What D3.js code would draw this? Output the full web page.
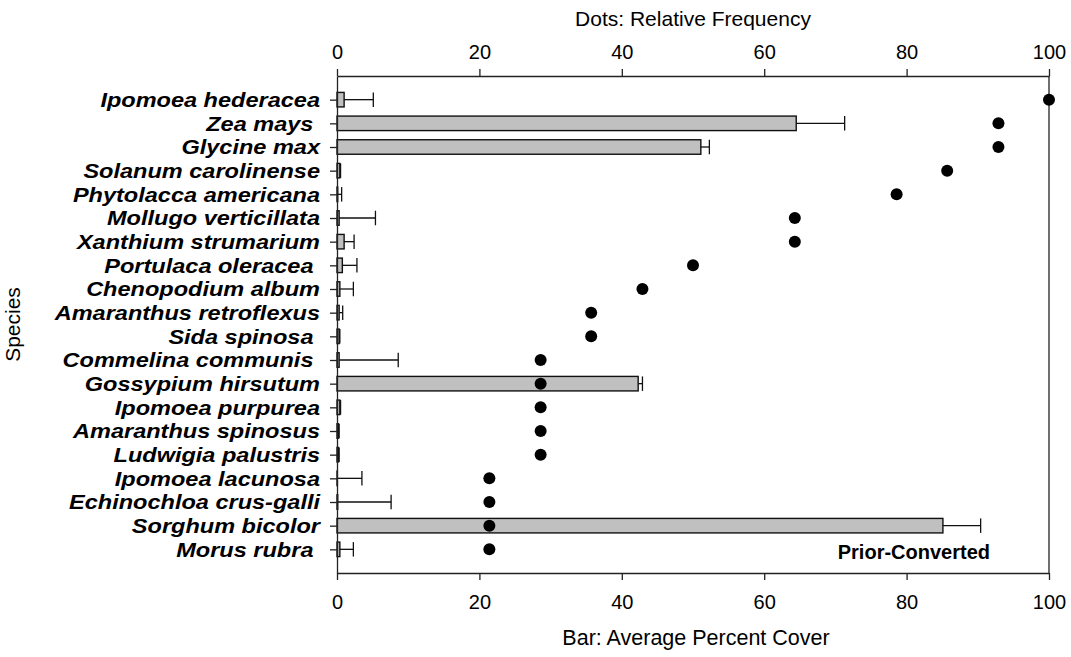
<!DOCTYPE html>
<html>
<head>
<meta charset="utf-8">
<script src="https://cdn.jsdelivr.net/npm/d3@7"></script>
<style>
  body { margin: 0; background: #fff; }
  svg { display: block; font-family: Arial, "Liberation Sans", Helvetica, sans-serif; }
  text { white-space: pre; }
</style>
</head>
<body>
<svg id="chart" width="1071" height="657"></svg>
<script>
const species = [
  "Ipomoea hederacea", "Zea mays ", "Glycine max", "Solanum carolinense",
  "Phytolacca americana", "Mollugo verticillata", "Xanthium strumarium",
  "Portulaca oleracea ", "Chenopodium album", "Amaranthus retroflexus",
  "Sida spinosa ", "Commelina communis ", "Gossypium hirsutum",
  "Ipomoea purpurea", "Amaranthus spinosus", "Ludwigia palustris",
  "Ipomoea lacunosa", "Echinochloa crus-galli", "Sorghum bicolor", "Morus rubra "
];
const coverMean = [1.0, 64.5, 51.1, 0.4, 0.1, 0.3, 1.0, 0.75, 0.4, 0.3,
                   0.3, 0.3, 42.3, 0.4, 0.2, 0.2, 0.05, 0.1, 85.1, 0.4];
const coverErr  = [5.1, 71.3, 52.3, 0.5, 0.65, 5.4, 2.4, 2.8, 2.3, 0.8,
                   0.4, 8.6, 42.9, 0.5, 0.3, 0.3, 3.5, 7.6, 90.4, 2.3];
const relFreq   = [100, 92.9, 92.9, 85.7, 78.6, 64.3, 64.3, 50, 42.9, 35.7,
                   35.7, 28.6, 28.6, 28.6, 28.6, 28.6, 21.4, 21.4, 21.4, 21.4];
const xTicks = [0, 20, 40, 60, 80, 100];

const svg = d3.select("#chart");
const L = 337, R = 1049, T = 76, B = 573;

const x = d3.scaleLinear().domain([0, 100]).range([L, R]);
const y = d3.scalePoint().domain(species).range([T, B]).padding(1);
const barH = 14.5;
const ink = "#222";

// frame line on the right
svg.append("line").attr("x1", R).attr("x2", R).attr("y1", T).attr("y2", B)
  .attr("stroke", ink).attr("stroke-width", 1.3);

// bars
svg.append("g").selectAll("rect").data(species).join("rect")
  .attr("x", x(0))
  .attr("y", d => y(d) - barH / 2)
  .attr("width", (d, i) => x(coverMean[i]) - x(0))
  .attr("height", barH)
  .attr("fill", "#c0c0c0")
  .attr("stroke", "#111")
  .attr("stroke-width", 1.4);

// error bars
const eg = svg.append("g").attr("stroke", "#111").attr("stroke-width", 1.3);
species.forEach((d, i) => {
  eg.append("line").attr("x1", x(coverMean[i])).attr("x2", x(coverErr[i]))
    .attr("y1", y(d)).attr("y2", y(d));
  eg.append("line").attr("x1", x(coverErr[i])).attr("x2", x(coverErr[i]))
    .attr("y1", y(d) - barH / 2).attr("y2", y(d) + barH / 2);
});

// dots
svg.append("g").selectAll("circle").data(species).join("circle")
  .attr("cx", (d, i) => x(relFreq[i]))
  .attr("cy", d => y(d))
  .attr("r", 6)
  .attr("fill", "#000");

// axes
const axB = svg.append("g").attr("transform", `translate(0,${B})`)
  .call(d3.axisBottom(x).tickValues(xTicks).tickSize(7).tickPadding(15).tickSizeOuter(0));
const axT = svg.append("g").attr("transform", `translate(0,${T})`)
  .call(d3.axisTop(x).tickValues(xTicks).tickSize(7).tickPadding(10).tickSizeOuter(0));
const axL = svg.append("g").attr("transform", `translate(${L},0)`)
  .call(d3.axisLeft(y).tickSize(7).tickPadding(10).tickSizeOuter(0));

[axB, axT, axL].forEach(g => {
  g.select(".domain").attr("stroke", ink).attr("stroke-width", 1.3);
  g.selectAll(".tick line").attr("stroke", ink).attr("stroke-width", 1.3);
  g.selectAll(".tick text").attr("fill", "#000").attr("font-family", "Arial, 'Liberation Sans', sans-serif");
});
axB.selectAll(".tick text").attr("font-size", 20);
axT.selectAll(".tick text").attr("font-size", 20);
axL.selectAll(".tick text").attr("font-size", 21).attr("font-weight", "bold").attr("font-style", "italic")
  .each(function () {
    const len = this.getComputedTextLength();
    d3.select(this).attr("textLength", len * 1.12).attr("lengthAdjust", "spacingAndGlyphs");
  });

// titles
svg.append("text").attr("x", (L + R) / 2).attr("y", 26).attr("text-anchor", "middle")
  .attr("font-size", 21).text("Dots: Relative Frequency");
svg.append("text").attr("x", (L + R) / 2 + 3).attr("y", 645).attr("text-anchor", "middle")
  .attr("font-size", 21.5).text("Bar: Average Percent Cover");
svg.append("text").attr("transform", `translate(20,${(T + B) / 2}) rotate(-90)`)
  .attr("text-anchor", "middle").attr("font-size", 21).text("Species");
svg.append("text").attr("x", 990).attr("y", 559).attr("text-anchor", "end")
  .attr("font-size", 20).attr("font-weight", "bold").text("Prior-Converted");
</script>
</body>
</html>
